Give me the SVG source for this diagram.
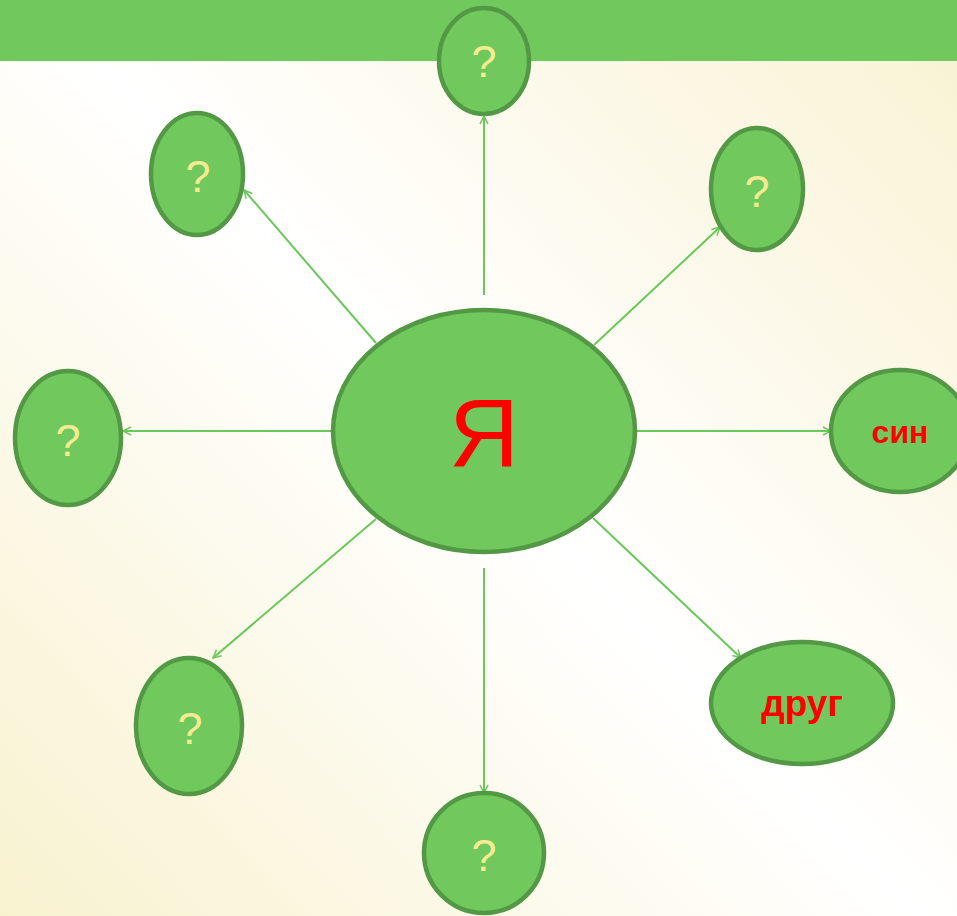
<svg xmlns="http://www.w3.org/2000/svg" width="957" height="916" viewBox="0 0 957 916">
<defs>
<linearGradient id="bg" x1="0" y1="916" x2="957" y2="0" gradientUnits="userSpaceOnUse">
<stop offset="0" stop-color="#f8f2cf"/>
<stop offset="0.5" stop-color="#ffffff"/>
<stop offset="1" stop-color="#f9f2d2"/>
</linearGradient>
<marker id="arr" viewBox="0 0 10 10" refX="9" refY="5" markerWidth="10" markerHeight="10" markerUnits="userSpaceOnUse" orient="auto">
<path d="M1,1 L9,5 L1,9" fill="none" stroke="#6ac75a" stroke-width="1.5"/>
</marker>
<style>
.node{fill:#71c95e;stroke:#539844;stroke-width:4.5}
.q{font-family:"Liberation Sans",Arial,sans-serif;font-size:45px;fill:#f5ec92;text-anchor:middle}
.lbl{font-family:"Liberation Sans",Arial,sans-serif;font-weight:bold;fill:#ff0000;text-anchor:middle}
.c{stroke:#6ac75a;stroke-width:2;fill:none;marker-end:url(#arr)}
</style>
</defs>
<rect x="0" y="0" width="957" height="916" fill="url(#bg)"/>
<rect x="0" y="0" width="957" height="61" fill="#71c95e"/>
<g id="connectors">
<line class="c" x1="484" y1="295" x2="484" y2="116"/>
<line class="c" x1="376" y1="343" x2="244" y2="190"/>
<line class="c" x1="594" y1="345" x2="720" y2="227"/>
<line class="c" x1="332" y1="431" x2="123" y2="431"/>
<line class="c" x1="636" y1="431" x2="831" y2="431"/>
<line class="c" x1="376" y1="519" x2="213" y2="658"/>
<line class="c" x1="484" y1="568" x2="484" y2="793"/>
<line class="c" x1="593" y1="518" x2="741" y2="658"/>
</g>
<g id="center">
<ellipse class="node" cx="484" cy="431" rx="151" ry="121"/>
<text x="484" y="467" font-family="'Liberation Sans',Arial,sans-serif" font-size="97" fill="#ff0000" text-anchor="middle">Я</text>
</g>
<g id="n-top">
<ellipse class="node" cx="484" cy="61" rx="45" ry="53"/>
<text class="q" x="484" y="77">?</text>
</g>
<g id="n-topleft">
<ellipse class="node" cx="197" cy="174" rx="46" ry="61"/>
<text class="q" x="198" y="192">?</text>
</g>
<g id="n-topright">
<ellipse class="node" cx="757" cy="189" rx="46" ry="61"/>
<text class="q" x="757" y="207">?</text>
</g>
<g id="n-left">
<ellipse class="node" cx="68" cy="438" rx="53" ry="67"/>
<text class="q" x="68" y="456">?</text>
</g>
<g id="n-son">
<ellipse class="node" cx="900" cy="431" rx="69" ry="61"/>
<text class="lbl" x="900" y="443" font-size="32">син</text>
</g>
<g id="n-friend">
<ellipse class="node" cx="802" cy="703" rx="91" ry="61"/>
<text class="lbl" x="802" y="716" font-size="37">друг</text>
</g>
<g id="n-bottom">
<ellipse class="node" cx="484" cy="853" rx="60" ry="60"/>
<text class="q" x="484" y="871">?</text>
</g>
<g id="n-bottomleft">
<ellipse class="node" cx="189" cy="726" rx="53" ry="68"/>
<text class="q" x="190" y="744">?</text>
</g>
</svg>
